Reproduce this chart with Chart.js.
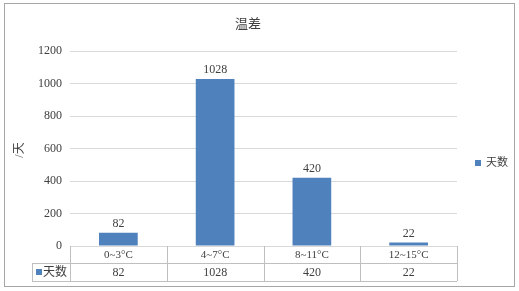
<!DOCTYPE html>
<html>
<head>
<meta charset="utf-8">
<script src="https://cdn.jsdelivr.net/npm/chart.js@4"></script>
<style>
    html, body { margin: 0; padding: 0; background: #fff; }
    #wrap { width: 519px; height: 291px; }
</style>
</head>
<body>
<div id="wrap"><canvas id="tempChart" width="519" height="291"></canvas></div>
<script>
// chart values
const categories = ['0~3°C', '4~7°C', '8~11°C', '12~15°C'];
const days = [82, 1028, 420, 22];
const seriesName = '天数';
const chartTitle = '温差';
const yAxisTitle = '/天';
const yMin = 0;
const yMax = 1200;
const yStep = 200;

const barColor = '#4f81bd';
const textColor = '#404040';
const lineColor = '#bfbfbf';
const fontFamily = '"Liberation Serif", "Noto Sans CJK SC", serif';

// Title, axis title, legend, value labels, frame and data table
const decorPlugin = {
    id: 'decor',
    beforeDraw(chart) {
        const ctx = chart.ctx;
        ctx.save();
        ctx.fillStyle = '#fff';
        ctx.fillRect(0, 0, chart.width, chart.height);
        ctx.restore();
    },
    afterDraw(chart) {
        const ctx = chart.ctx;
        const area = chart.chartArea;
        const meta = chart.getDatasetMeta(0);
        const n = categories.length;
        const step = (area.right - area.left) / n;
        const rowTop = area.bottom;
        const rowMid = rowTop + 17;
        const rowBottom = rowMid + 18;
        const tableLeft = 32;

        ctx.save();
        // outer frame
        ctx.strokeStyle = '#a6a6a6';
        ctx.lineWidth = 1;
        ctx.strokeRect(4.5, 3.5, 510, 283);

        // title
        ctx.fillStyle = textColor;
        ctx.font = '13px ' + fontFamily;
        ctx.textAlign = 'center';
        ctx.textBaseline = 'middle';
        ctx.fillText(chartTitle, 248, 25);

        // y axis title
        ctx.save();
        ctx.translate(20, 150);
        ctx.rotate(-Math.PI / 2);
        ctx.font = '12px ' + fontFamily;
        ctx.fillText(yAxisTitle, 0, 0);
        ctx.restore();

        // legend
        ctx.fillStyle = barColor;
        ctx.fillRect(475, 160, 6, 6);
        ctx.fillStyle = textColor;
        ctx.font = '11px ' + fontFamily;
        ctx.textAlign = 'left';
        ctx.fillText(seriesName, 486, 163);

        // value labels above bars
        ctx.font = '12px ' + fontFamily;
        ctx.textAlign = 'center';
        ctx.textBaseline = 'bottom';
        meta.data.forEach((bar, i) => {
            ctx.fillText(String(days[i]), bar.x, bar.y - 3);
        });

        // data table lines
        ctx.strokeStyle = lineColor;
        ctx.beginPath();
        ctx.moveTo(tableLeft, rowMid + 0.5);
        ctx.lineTo(area.right, rowMid + 0.5);
        ctx.moveTo(tableLeft, rowBottom + 0.5);
        ctx.lineTo(area.right, rowBottom + 0.5);
        ctx.moveTo(tableLeft + 0.5, rowMid);
        ctx.lineTo(tableLeft + 0.5, rowBottom);
        for (let i = 0; i <= n; i++) {
            const x = Math.round(area.left + step * i) + 0.5;
            ctx.moveTo(x, rowTop);
            ctx.lineTo(x, rowBottom);
        }
        ctx.stroke();

        // table text
        ctx.fillStyle = textColor;
        ctx.textBaseline = 'middle';
        ctx.font = '11px ' + fontFamily;
        categories.forEach((c, i) => {
            const cx = area.left + step * (i + 0.5);
            ctx.fillText(c, cx, (rowTop + rowMid) / 2 + 1);
        });
        ctx.font = '12px ' + fontFamily;
        days.forEach((v, i) => {
            const cx = area.left + step * (i + 0.5);
            ctx.fillText(String(v), cx, (rowMid + rowBottom) / 2 + 1);
        });

        // series key in first table cell
        ctx.fillStyle = barColor;
        ctx.fillRect(36, rowMid + 6, 6, 6);
        ctx.fillStyle = textColor;
        ctx.textAlign = 'left';
        ctx.font = '12px ' + fontFamily;
        ctx.fillText(seriesName, 43, (rowMid + rowBottom) / 2 + 1);
        ctx.restore();
    }
};

const tempChart = new Chart(document.getElementById('tempChart'), {
    type: 'bar',
    data: {
        labels: categories,
        datasets: [{
            label: seriesName,
            data: days,
            backgroundColor: barColor,
            borderWidth: 0,
            barPercentage: 0.4,
            categoryPercentage: 1
        }]
    },
    options: {
        responsive: false,
        animation: false,
        layout: {
            padding: { top: 51, left: 0, right: 62, bottom: 10 }
        },
        plugins: {
            legend: { display: false },
            title: { display: false },
            tooltip: { enabled: false }
        },
        scales: {
            x: {
                grid: { display: false },
                border: { display: false },
                ticks: { display: false },
                afterFit(scale) { scale.height = 35; }
            },
            y: {
                min: yMin,
                max: yMax,
                ticks: {
                    stepSize: yStep,
                    color: textColor,
                    padding: 8,
                    font: { family: fontFamily, size: 12 },
                    callback: (value) => String(value)
                },
                grid: { color: '#d9d9d9', drawTicks: false },
                border: { display: false },
                afterFit(scale) { scale.width = 70; }
            }
        }
    },
    plugins: [decorPlugin]
});
</script>
</body>
</html>
